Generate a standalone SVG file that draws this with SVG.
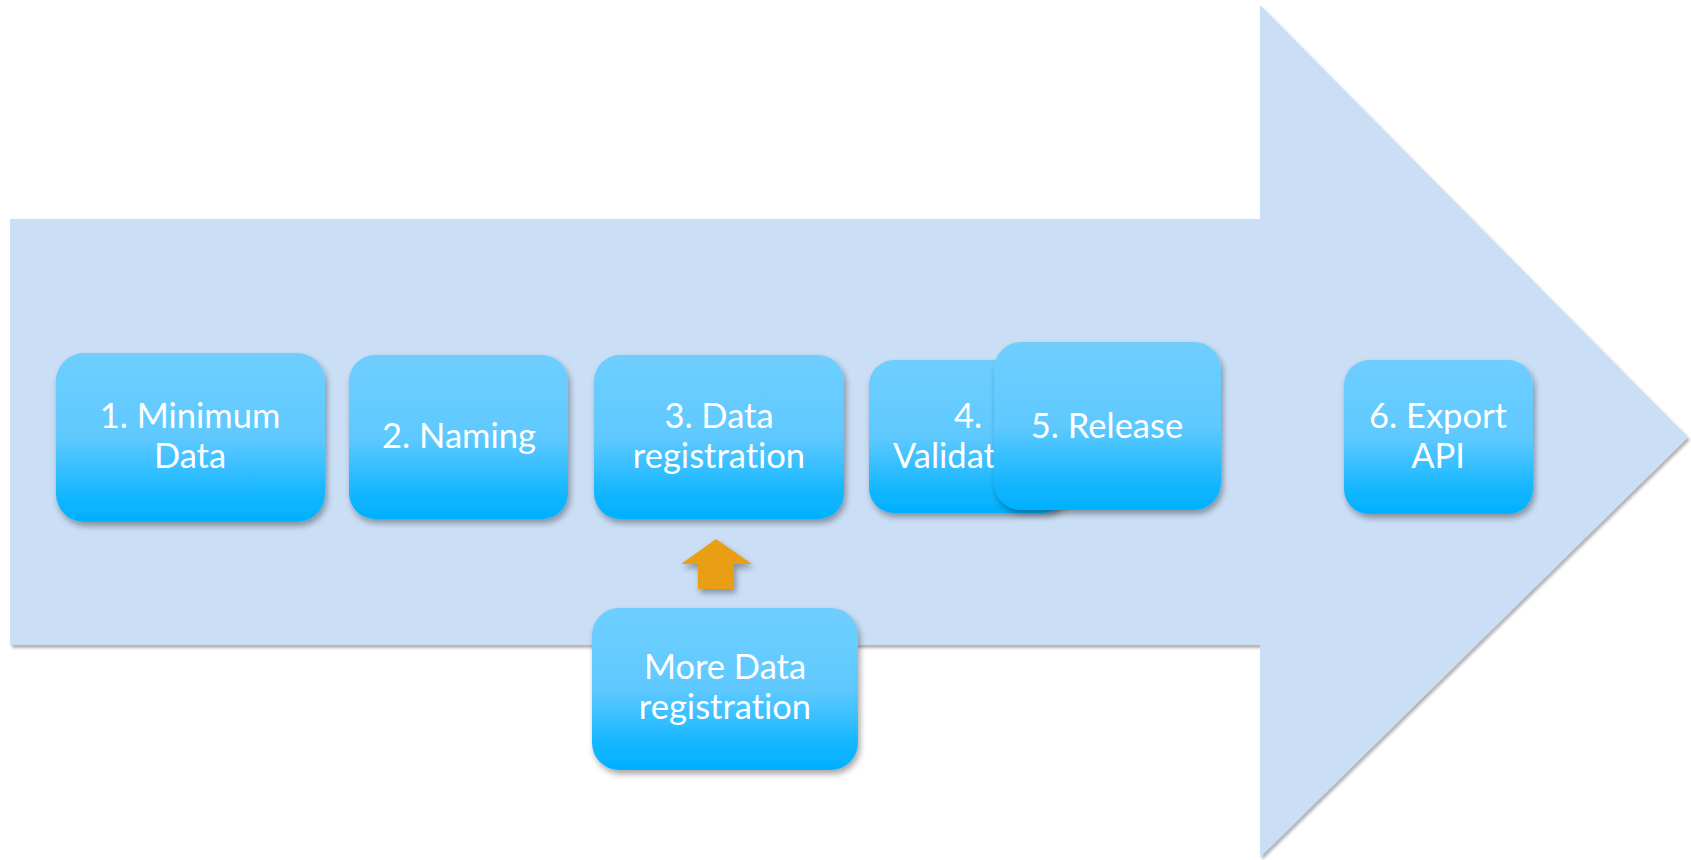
<svg xmlns="http://www.w3.org/2000/svg" width="1691" height="860" viewBox="0 0 1691 860">
  <defs>
    <linearGradient id="boxGrad" x1="0" y1="0" x2="0" y2="1">
      <stop offset="0" stop-color="#6FCEFF"/>
      <stop offset="0.5" stop-color="#5FC9FF"/>
      <stop offset="0.85" stop-color="#12B6FF"/>
      <stop offset="1" stop-color="#00B0FF"/>
    </linearGradient>
    <filter id="shadow" x="-10%" y="-10%" width="125%" height="130%">
      <feDropShadow dx="2" dy="4" stdDeviation="3" flood-color="#000000" flood-opacity="0.35"/>
    </filter>
    <filter id="bigShadow" x="-5%" y="-5%" width="110%" height="110%">
      <feDropShadow dx="2" dy="3" stdDeviation="1.5" flood-color="#000000" flood-opacity="0.3"/>
    </filter>
  </defs>
  <style>
    .box { fill: url(#boxGrad); filter: url(#shadow); }
    .lbl { font-family: Lato, "Open Sans", sans-serif; font-size: 34.5px; fill: #FFFFFF; text-anchor: middle; font-variant-ligatures: none; }
  </style>
  <rect width="1691" height="860" fill="#FFFFFF"/>
  <g id="background-arrow">
    <polygon points="10,219 1260,219 1260,5 1688,437 1260,857 1260,645 10,645" fill="#CADEF6" filter="url(#bigShadow)"/>
  </g>
  <g id="node1">
    <rect class="box" x="56" y="353" width="269" height="169" rx="28"/>
    <text class="lbl" x="190" y="428">1. Minimum</text>
    <text class="lbl" x="190" y="468">Data</text>
  </g>
  <g id="node2">
    <rect class="box" x="349" y="355" width="219" height="164" rx="26"/>
    <text class="lbl" x="459" y="448">2. Naming</text>
  </g>
  <g id="node3">
    <rect class="box" x="594" y="355" width="250" height="164" rx="26"/>
    <text class="lbl" x="719" y="428">3. Data</text>
    <text class="lbl" x="719" y="468">registration</text>
  </g>
  <g id="node4">
    <rect class="box" x="869" y="360" width="199" height="153" rx="25"/>
    <text class="lbl" x="968" y="428">4.</text>
    <text class="lbl" x="968" y="468">Validation</text>
  </g>
  <g id="node5">
    <rect class="box" x="994" y="342" width="227" height="168" rx="27"/>
    <text class="lbl" x="1107" y="438">5. Release</text>
  </g>
  <g id="node6">
    <rect class="box" x="1344" y="360" width="189" height="154" rx="25"/>
    <text class="lbl" x="1438" y="428">6. Export</text>
    <text class="lbl" x="1438" y="468">API</text>
  </g>
  <g id="connectors">
    <polygon points="716,539 752,564 734,564 734,589 698,589 698,564 681,564" fill="#E99E17" filter="url(#shadow)"/>
  </g>
  <g id="node-more-data">
    <rect class="box" x="592" y="608" width="266" height="162" rx="27"/>
    <text class="lbl" x="725" y="679">More Data</text>
    <text class="lbl" x="725" y="719">registration</text>
  </g>
</svg>
